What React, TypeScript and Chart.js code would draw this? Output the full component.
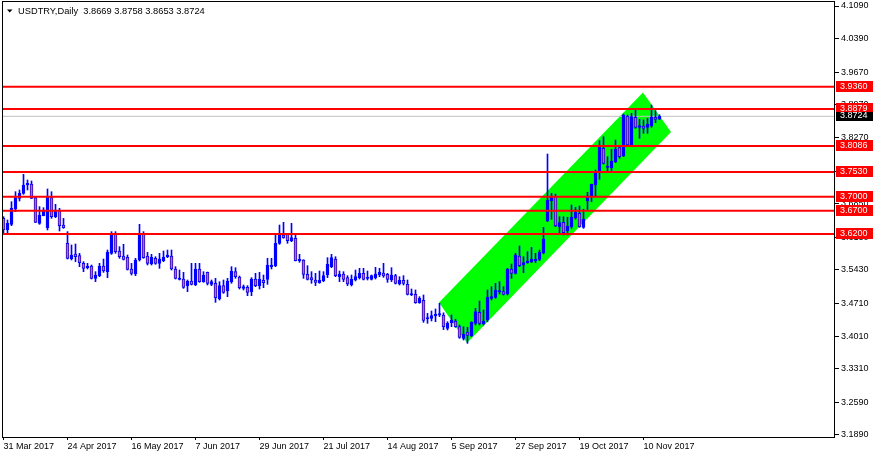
import React, { useEffect, useRef } from 'react';
import { Chart, registerables } from 'chart.js';

Chart.register(...registerables);

const titleText = 'USDTRY,Daily  3.8669 3.8758 3.8653 3.8724';

const xTickIdx = [0, 16, 32, 48, 64, 80, 96, 112, 128, 144, 160];
const xTickLabels = ['31 Mar 2017', '24 Apr 2017', '16 May 2017', '7 Jun 2017', '29 Jun 2017', '21 Jul 2017', '14 Aug 2017', '5 Sep 2017', '27 Sep 2017', '19 Oct 2017', '10 Nov 2017'];
const yTicks = [4.109, 4.039, 3.967, 3.897, 3.827, 3.755, 3.685, 3.613, 3.543, 3.471, 3.401, 3.331, 3.259, 3.189];

const levels = [3.936, 3.8879, 3.8086, 3.753, 3.7, 3.67, 3.62];
const currentPrice = 3.8724;

const opens = [3.6536,3.6286,3.6408,3.6737,3.6965,3.7073,3.7251,3.7273,3.6980,3.6429,
 3.6594,3.6336,3.6980,3.6572,3.6701,3.6393,3.6000,3.5664,3.5772,3.5736,
 3.5571,3.5478,3.5514,3.5250,3.5307,3.5514,3.5393,3.5786,3.6215,3.5836,
 3.5729,3.5700,3.5450,3.5343,3.5643,3.6215,3.5729,3.5557,3.5679,3.5571,
 3.5629,3.5714,3.5729,3.5450,3.5228,3.5235,3.5092,3.5193,3.5107,3.5450,
 3.5178,3.5378,3.5121,3.5143,3.4807,3.5092,3.4978,3.5178,3.5393,3.5278,
 3.5035,3.5057,3.4964,3.5235,3.5092,3.5207,3.5228,3.5500,3.5521,3.6000,
 3.6179,3.6200,3.6050,3.6108,3.5629,3.5643,3.5336,3.5264,3.5214,3.5157,
 3.5200,3.5321,3.5500,3.5664,3.5285,3.5343,3.5264,3.5107,3.5214,3.5264,
 3.5357,3.5250,3.5228,3.5264,3.5321,3.5364,3.5336,3.5214,3.5307,3.5128,
 3.5207,3.5121,3.4892,3.4907,3.4728,3.4778,3.4378,3.4392,3.4442,3.4464,
 3.4460,3.4177,3.4299,3.4335,3.4213,3.3963,3.4099,3.4020,3.4285,3.4521,
 3.4270,3.4356,3.4821,3.4842,3.4957,3.4964,3.4914,3.5450,3.5357,3.5729,
 3.5536,3.5586,3.5607,3.5621,3.5657,3.5800,3.6479,3.6915,3.7001,3.6358,
 3.6450,3.6272,3.6358,3.6551,3.6644,3.6344,3.6908,3.7001,3.7251,3.7516,
 3.8038,3.7630,3.7623,3.7752,3.8052,3.7873,3.8731,3.8088,3.8702,3.8488,
 3.8517,3.8488,3.8517,3.8702,3.8669];

const highs = [3.6572,3.6501,3.6894,3.7108,3.7144,3.7480,3.7359,3.7337,3.7001,3.6787,
 3.6765,3.7166,3.7108,3.6837,3.6751,3.6536,3.6251,3.5965,3.5986,3.5786,
 3.5607,3.5571,3.5536,3.5393,3.5571,3.5664,3.5857,3.6251,3.6251,3.5929,
 3.5979,3.5750,3.5571,3.5679,3.6408,3.6251,3.5807,3.5764,3.5714,3.5786,
 3.5836,3.5857,3.5857,3.5500,3.5428,3.5378,3.5214,3.5571,3.5571,3.5571,
 3.5393,3.5385,3.5214,3.5250,3.5178,3.5214,3.5250,3.5500,3.5478,3.5300,
 3.5107,3.5093,3.5264,3.5357,3.5378,3.5321,3.5679,3.5679,3.6179,3.6393,
 3.6451,3.6215,3.6429,3.6215,3.5764,3.5650,3.5521,3.5393,3.5357,3.5407,
 3.5393,3.5693,3.5764,3.5714,3.5407,3.5393,3.5307,3.5321,3.5428,3.5464,
 3.5464,3.5407,3.5321,3.5486,3.5464,3.5571,3.5357,3.5478,3.5336,3.5285,
 3.5307,3.5214,3.5021,3.5000,3.4857,3.4892,3.4499,3.4549,3.4592,3.4714,
 3.4510,3.4320,3.4463,3.4370,3.4249,3.4213,3.4199,3.4320,3.4606,3.4764,
 3.4571,3.5000,3.5071,3.5143,3.5178,3.5071,3.5464,3.5557,3.5786,3.5943,
 3.5714,3.5822,3.5914,3.5786,3.5857,3.6343,3.7916,3.7073,3.7058,3.6572,
 3.6572,3.6558,3.6822,3.6772,3.6801,3.6729,3.7094,3.7273,3.7573,3.8202,
 3.8288,3.7859,3.8016,3.8216,3.8088,3.8774,3.8752,3.8788,3.8874,3.8660,
 3.8645,3.8681,3.8967,3.8845,3.8758];

const lows = [3.6215,3.6215,3.6379,3.6679,3.6908,3.7051,3.7144,3.6960,3.6446,3.6408,
 3.6590,3.6286,3.6536,3.6551,3.6265,3.6322,3.5664,3.5643,3.5607,3.5500,
 3.5393,3.5450,3.5235,3.5178,3.5286,3.5378,3.5264,3.5764,3.5786,3.5679,
 3.5643,3.5428,3.5321,3.5307,3.5621,3.5679,3.5536,3.5536,3.5550,3.5464,
 3.5607,3.5693,3.5428,3.5235,3.5214,3.5035,3.4964,3.5107,3.5092,3.5164,
 3.5164,3.5107,3.5092,3.4735,3.4785,3.4928,3.4857,3.5143,3.5250,3.5021,
 3.5000,3.4878,3.4878,3.5071,3.5021,3.5050,3.5121,3.5450,3.5500,3.5979,
 3.6108,3.6000,3.6036,3.5622,3.5593,3.5250,3.5214,3.5143,3.5092,3.5143,
 3.5178,3.5264,3.5478,3.5285,3.5178,3.5178,3.5092,3.5085,3.5193,3.5235,
 3.5214,3.5214,3.5214,3.5235,3.5285,3.5271,3.5164,3.5178,3.5128,3.5107,
 3.5107,3.4892,3.4878,3.4714,3.4714,3.4306,3.4285,3.4335,3.4320,3.4428,
 3.4150,3.4142,3.4213,3.4199,3.3963,3.3927,3.3856,3.3999,3.4249,3.4249,
 3.4249,3.4320,3.4785,3.4821,3.4914,3.4892,3.4892,3.5250,3.5343,3.5500,
 3.5371,3.5571,3.5586,3.5586,3.5629,3.5772,3.6465,3.6515,3.6358,3.6215,
 3.6179,3.6179,3.6322,3.6515,3.6344,3.6322,3.6729,3.6894,3.7015,3.7373,
 3.7702,3.7537,3.7537,3.7730,3.7823,3.7859,3.8073,3.8073,3.8467,3.8252,
 3.8359,3.8359,3.8488,3.8588,3.8653];

const closes = [3.6286,3.6429,3.6751,3.6980,3.7073,3.7251,3.7287,3.6965,3.6451,3.6608,
 3.6694,3.7001,3.6572,3.6679,3.6379,3.6336,3.5679,3.5750,3.5714,3.5586,
 3.5464,3.5514,3.5250,3.5321,3.5514,3.5407,3.5807,3.6215,3.5822,3.5714,
 3.5657,3.5443,3.5357,3.5643,3.6215,3.5693,3.5571,3.5700,3.5571,3.5664,
 3.5700,3.5750,3.5450,3.5250,3.5250,3.5057,3.5193,3.5121,3.5450,3.5178,
 3.5321,3.5143,3.5178,3.4835,3.5092,3.4950,3.5193,3.5407,3.5285,3.5050,
 3.5071,3.4949,3.5235,3.5092,3.5235,3.5157,3.5536,3.5536,3.6000,3.6193,
 3.6122,3.6058,3.6122,3.5629,3.5657,3.5336,3.5228,3.5214,3.5164,3.5214,
 3.5307,3.5550,3.5693,3.5307,3.5343,3.5228,3.5128,3.5235,3.5285,3.5357,
 3.5228,3.5264,3.5307,3.5343,3.5378,3.5300,3.5228,3.5321,3.5143,3.5207,
 3.5143,3.4907,3.4921,3.4728,3.4821,3.4349,3.4406,3.4449,3.4478,3.4492,
 3.4213,3.4285,3.4356,3.4213,3.3984,3.4049,3.4027,3.4306,3.4535,3.4285,
 3.4335,3.4842,3.4857,3.5000,3.4985,3.4907,3.5443,3.5357,3.5750,3.5521,
 3.5586,3.5621,3.5664,3.5657,3.5807,3.6093,3.6930,3.7015,3.6372,3.6443,
 3.6229,3.6372,3.6558,3.6665,3.6358,3.6515,3.7015,3.7266,3.7537,3.8059,
 3.7716,3.7659,3.7766,3.8016,3.7859,3.8752,3.8109,3.8717,3.8488,3.8524,
 3.8467,3.8559,3.8702,3.8660,3.8724];

// trend channel corners (bar index, price)
const channelX = [108.875, 159.875, 166.875, 115.875];
const channelY = [3.4731, 3.9235, 3.8388, 3.3863];

const X_MIN = -0.375;
const X_MAX = 207.875;
const Y_MIN = 3.18471;
const Y_MAX = 4.11758;

const BLUE = '#0000FF';
const BEAR = '#F0643C';
const FONT = 'Liberation Sans, Arial, sans-serif';

export default function App() {
  const ref = useRef<HTMLCanvasElement | null>(null);

  useEffect(() => {
    if (!ref.current) return;
    const wickData = opens.map((_, i) => ({ x: i, y: [lows[i], highs[i]] }));
    const bodyData = opens.map((o, i) => ({ x: i, y: [o, closes[i]] }));
    const bodyColors = opens.map((o, i) => (closes[i] >= o ? BLUE : BEAR));

    const channelPlugin = {
      id: 'channel',
      beforeDatasetsDraw(chart: any) {
        const { ctx, chartArea, scales } = chart;
        ctx.save();
        ctx.beginPath();
        ctx.rect(chartArea.left, chartArea.top, chartArea.right - chartArea.left, chartArea.bottom - chartArea.top);
        ctx.clip();
        ctx.beginPath();
        channelX.forEach((cx, k) => {
          const px = scales.x.getPixelForValue(cx);
          const py = scales.y.getPixelForValue(channelY[k]);
          if (k === 0) ctx.moveTo(px, py); else ctx.lineTo(px, py);
        });
        ctx.closePath();
        ctx.fillStyle = '#00FF00';
        ctx.fill();
        ctx.restore();
      },
    };

    const overlayPlugin = {
      id: 'overlay',
      afterDraw(chart: any) {
        const { ctx, scales, chartArea } = chart;
        ctx.save();
        ctx.font = '9px ' + FONT;
        ctx.textBaseline = 'middle';
        ctx.textAlign = 'left';
        levels.forEach((lv) => {
          const y = Math.round(scales.y.getPixelForValue(lv));
          ctx.fillStyle = '#FF0000';
          ctx.fillRect(chartArea.right + 1, y - 6, 37, 11);
          ctx.fillStyle = '#FFFFFF';
          ctx.fillText(lv.toFixed(4), chartArea.right + 5, y);
        });
        const cy = Math.round(scales.y.getPixelForValue(currentPrice));
        ctx.fillStyle = '#000000';
        ctx.fillRect(chartArea.right + 1, cy - 4, 37, 9);
        ctx.fillStyle = '#FFFFFF';
        ctx.fillText(currentPrice.toFixed(4), chartArea.right + 5, cy);

        // frame
        ctx.strokeStyle = '#000000';
        ctx.lineWidth = 1;
        ctx.strokeRect(2.5, 1.5, chartArea.right - 3, chartArea.bottom - 1);

        // header
        ctx.fillStyle = '#000000';
        ctx.beginPath();
        ctx.moveTo(7, 9.5);
        ctx.lineTo(12.5, 9.5);
        ctx.lineTo(9.75, 12.5);
        ctx.closePath();
        ctx.fill();
        ctx.font = '9.3px ' + FONT;
        ctx.fillText(titleText, 18, 11.5);
        ctx.restore();
      },
    };

    const levelSets = levels.map((lv) => ({
      type: 'line' as const,
      data: [{ x: X_MIN, y: lv }, { x: X_MAX, y: lv }],
      borderColor: '#FF0000',
      borderWidth: 2,
      pointRadius: 0,
      order: 0,
    }));

    const chart = new Chart(ref.current, {
      type: 'bar',
      data: {
        datasets: [
          ...levelSets,
          {
            type: 'line' as const,
            data: [{ x: X_MIN, y: currentPrice }, { x: X_MAX, y: currentPrice }],
            borderColor: '#C0C0C0',
            borderWidth: 1,
            pointRadius: 0,
            order: 4,
          },
          {
            type: 'bar' as const,
            data: bodyData as any,
            backgroundColor: bodyColors,
            borderColor: BLUE,
            borderWidth: 1,
            borderSkipped: false,
            barThickness: 3,
            minBarLength: 1,
            grouped: false,
            order: 1,
          },
          {
            type: 'bar' as const,
            data: wickData as any,
            backgroundColor: BLUE,
            borderWidth: 0,
            barThickness: 1,
            grouped: false,
            order: 2,
          },
        ] as any,
      },
      options: {
        animation: false,
        responsive: false,
        devicePixelRatio: 1,
        layout: { padding: { left: 2, top: 2, right: 0, bottom: 0 } },
        plugins: { legend: { display: false }, tooltip: { enabled: false } },
        scales: {
          x: {
            type: 'linear',
            min: X_MIN,
            max: X_MAX,
            offset: false,
            grid: { drawOnChartArea: false, drawTicks: true, tickLength: 3, tickColor: '#000', offset: false },
            border: { display: false },
            ticks: {
              autoSkip: false,
              maxRotation: 0,
              minRotation: 0,
              align: 'start',
              padding: 1,
              color: '#000',
              font: { family: FONT, size: 9 },
              callback: (v: any) => {
                const k = xTickIdx.indexOf(Number(v));
                return k >= 0 ? xTickLabels[k] : '';
              },
            },
            afterBuildTicks: (s: any) => { s.ticks = xTickIdx.map((v) => ({ value: v })); },
            afterFit: (s: any) => { s.height = 22; s.paddingLeft = 0; s.paddingRight = 0; },
          },
          y: {
            type: 'linear',
            position: 'right',
            min: Y_MIN,
            max: Y_MAX,
            grid: { drawOnChartArea: false, drawTicks: true, tickLength: 4, tickColor: '#000' },
            border: { display: false },
            ticks: {
              padding: 2,
              color: '#000',
              font: { family: FONT, size: 9 },
              callback: (v: any) => Number(v).toFixed(4),
            },
            afterBuildTicks: (s: any) => { s.ticks = yTicks.map((v) => ({ value: v })); },
            afterFit: (s: any) => { s.width = 39; s.paddingTop = 0; s.paddingBottom = 0; },
          },
        },
      } as any,
      plugins: [channelPlugin, overlayPlugin],
    });
    return () => chart.destroy();
  }, []);

  return (
    <div style={{ position: 'fixed', left: 0, top: 0, width: 874, height: 459, background: '#fff' }}>
      <canvas ref={ref} width={874} height={459} style={{ width: 874, height: 459, display: 'block' }} />
    </div>
  );
}
